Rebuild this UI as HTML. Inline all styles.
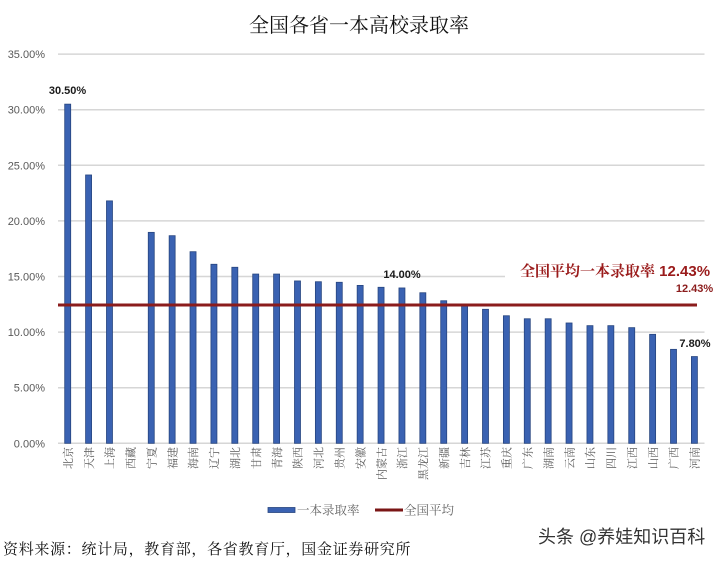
<!DOCTYPE html>
<html><head><meta charset="utf-8"><style>
html,body{margin:0;padding:0;background:#fff;}
svg{display:block;}
.cjk{font-family:"Liberation Serif","Noto Serif CJK SC",serif;}
.num{font-family:"Liberation Sans","Noto Sans CJK SC",sans-serif;}
</style></head><body>
<svg width="720" height="561" viewBox="0 0 720 561" xmlns="http://www.w3.org/2000/svg">
<rect width="720" height="561" fill="#fff"/>
<text class="cjk" x="359" y="32" font-size="20" text-anchor="middle" fill="#111">全国各省一本高校录取率</text>
<g stroke="#d6d6d6" stroke-width="1.5">
<line x1="58" y1="54.1" x2="704.5" y2="54.1"/>
<line x1="58" y1="109.7" x2="704.5" y2="109.7"/>
<line x1="58" y1="165.3" x2="704.5" y2="165.3"/>
<line x1="58" y1="220.9" x2="704.5" y2="220.9"/>
<line x1="58" y1="276.5" x2="704.5" y2="276.5"/>
<line x1="58" y1="332.1" x2="704.5" y2="332.1"/>
<line x1="58" y1="387.7" x2="704.5" y2="387.7"/>
<line x1="58" y1="443.3" x2="704.5" y2="443.3"/>
</g>
<g class="num" font-size="11" fill="#595959" text-anchor="end">
<text x="45" y="58">35.00%</text>
<text x="45" y="113.7">30.00%</text>
<text x="45" y="169.3">25.00%</text>
<text x="45" y="224.9">20.00%</text>
<text x="45" y="280.5">15.00%</text>
<text x="45" y="336.1">10.00%</text>
<text x="45" y="391.7">5.00%</text>
<text x="45" y="447.3">0.00%</text>
</g>
<rect x="505" y="262" width="212" height="19" fill="#fff"/>
<g fill="#3a62b2" stroke="#27457f" stroke-width="0.8">
<rect x="64.7" y="104.14" width="6" height="339.16"/>
<rect x="85.59" y="174.97" width="6" height="268.33"/>
<rect x="106.48" y="200.88" width="6" height="242.42"/>
<rect x="148.26" y="232.35" width="6" height="210.95"/>
<rect x="169.15" y="235.69" width="6" height="207.61"/>
<rect x="190.04" y="251.70" width="6" height="191.60"/>
<rect x="210.93" y="264.27" width="6" height="179.03"/>
<rect x="231.82" y="267.27" width="6" height="176.03"/>
<rect x="252.71" y="274.05" width="6" height="169.25"/>
<rect x="273.6" y="274.05" width="6" height="169.25"/>
<rect x="294.49" y="280.95" width="6" height="162.35"/>
<rect x="315.38" y="281.73" width="6" height="161.57"/>
<rect x="336.27" y="282.28" width="6" height="161.02"/>
<rect x="357.16" y="285.40" width="6" height="157.90"/>
<rect x="378.05" y="287.29" width="6" height="156.01"/>
<rect x="398.94" y="287.95" width="6" height="155.35"/>
<rect x="419.83" y="292.74" width="6" height="150.56"/>
<rect x="440.72" y="300.74" width="6" height="142.56"/>
<rect x="461.61" y="304.86" width="6" height="138.44"/>
<rect x="482.5" y="309.30" width="6" height="134.00"/>
<rect x="503.39" y="315.75" width="6" height="127.55"/>
<rect x="524.28" y="318.76" width="6" height="124.54"/>
<rect x="545.17" y="318.76" width="6" height="124.54"/>
<rect x="566.06" y="322.98" width="6" height="120.32"/>
<rect x="586.95" y="325.65" width="6" height="117.65"/>
<rect x="607.84" y="325.65" width="6" height="117.65"/>
<rect x="628.73" y="327.65" width="6" height="115.65"/>
<rect x="649.62" y="334.32" width="6" height="108.98"/>
<rect x="670.51" y="349.34" width="6" height="93.96"/>
<rect x="691.4" y="356.56" width="6" height="86.74"/>
</g>
<line x1="58" y1="305" x2="697" y2="305" stroke="#8b1c1c" stroke-width="3"/>
<g class="cjk" font-size="11" fill="#595959" text-anchor="end">
<text transform="translate(71.9,447) rotate(-90)">北京</text>
<text transform="translate(92.8,447) rotate(-90)">天津</text>
<text transform="translate(113.7,447) rotate(-90)">上海</text>
<text transform="translate(134.6,447) rotate(-90)">西藏</text>
<text transform="translate(155.5,447) rotate(-90)">宁夏</text>
<text transform="translate(176.4,447) rotate(-90)">福建</text>
<text transform="translate(197.2,447) rotate(-90)">海南</text>
<text transform="translate(218.1,447) rotate(-90)">辽宁</text>
<text transform="translate(239.0,447) rotate(-90)">湖北</text>
<text transform="translate(259.9,447) rotate(-90)">甘肃</text>
<text transform="translate(280.8,447) rotate(-90)">青海</text>
<text transform="translate(301.7,447) rotate(-90)">陕西</text>
<text transform="translate(322.6,447) rotate(-90)">河北</text>
<text transform="translate(343.5,447) rotate(-90)">贵州</text>
<text transform="translate(364.4,447) rotate(-90)">安徽</text>
<text transform="translate(385.3,447) rotate(-90)">内蒙古</text>
<text transform="translate(406.1,447) rotate(-90)">浙江</text>
<text transform="translate(427.0,447) rotate(-90)">黑龙江</text>
<text transform="translate(447.9,447) rotate(-90)">新疆</text>
<text transform="translate(468.8,447) rotate(-90)">吉林</text>
<text transform="translate(489.7,447) rotate(-90)">江苏</text>
<text transform="translate(510.6,447) rotate(-90)">重庆</text>
<text transform="translate(531.5,447) rotate(-90)">广东</text>
<text transform="translate(552.4,447) rotate(-90)">湖南</text>
<text transform="translate(573.3,447) rotate(-90)">云南</text>
<text transform="translate(594.2,447) rotate(-90)">山东</text>
<text transform="translate(615.0,447) rotate(-90)">四川</text>
<text transform="translate(635.9,447) rotate(-90)">江西</text>
<text transform="translate(656.8,447) rotate(-90)">山西</text>
<text transform="translate(677.7,447) rotate(-90)">广西</text>
<text transform="translate(698.6,447) rotate(-90)">河南</text>
</g>
<g class="num" font-size="11" font-weight="bold" fill="#1a1a1a" text-anchor="middle">
<text x="67.5" y="94">30.50%</text>
<text x="402" y="278">14.00%</text>
<text x="695" y="347">7.80%</text>
<text x="694.5" y="292" fill="#8b1c1c">12.43%</text>
</g>
<text x="520" y="276" font-size="15" font-weight="bold" fill="#9a1b1b"><tspan class="cjk">全国平均一本录取率</tspan><tspan class="num"> 12.43%</tspan></text>
<rect x="268" y="507.5" width="27" height="5" fill="#3a62b2" stroke="#27457f" stroke-width="0.8"/>
<text class="cjk" x="297" y="514.5" font-size="12.5" fill="#666">一本录取率</text>
<line x1="375" y1="510" x2="403" y2="510" stroke="#7a1515" stroke-width="3"/>
<text class="cjk" x="404" y="514.5" font-size="12.5" fill="#666">全国平均</text>
<text class="cjk" x="3" y="554" font-size="15" fill="#111" letter-spacing="0.7">资料来源：统计局，教育部，各省教育厅，国金证券研究所</text>
<text x="538" y="543" font-size="18" fill="#333" font-family="'Liberation Sans','Noto Sans CJK SC',sans-serif">头条 @养娃知识百科</text>
</svg>
</body></html>
